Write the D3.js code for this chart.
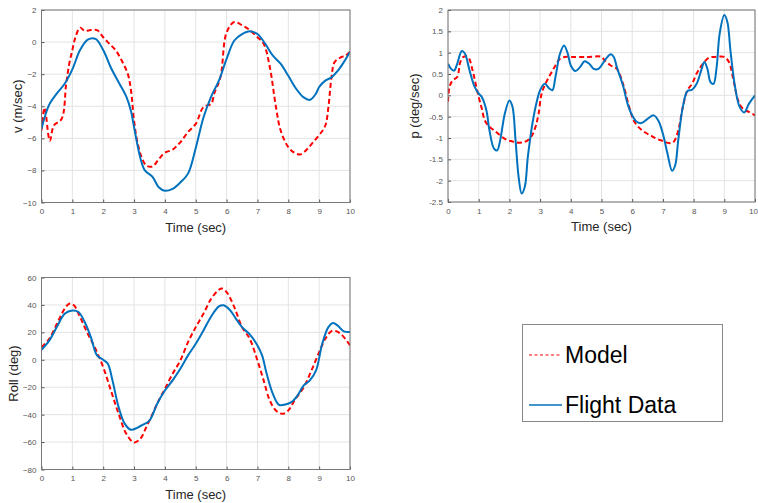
<!DOCTYPE html>
<html>
<head>
<meta charset="utf-8">
<script src="https://cdn.jsdelivr.net/npm/d3@7"></script>
<style>
  html, body { margin: 0; padding: 0; background: #fff; }
  svg { display: block; font-family: "Liberation Sans", Arial, sans-serif; }
</style>
</head>
<body>
<svg id="chart" width="758" height="503"></svg>
<script>
// Time samples and values for each response (Model vs Flight Data)
const vFlightT = [0,0.25,0.5,0.75,1.0,1.25,1.5,1.75,2.0,2.25,2.5,2.75,2.9,3.0,3.2,3.35,3.6,3.8,4.0,4.25,4.5,4.75,5.0,5.25,5.5,5.75,6.0,6.25,6.5,6.75,7.0,7.25,7.5,7.75,8.0,8.25,8.5,8.7,8.9,9.0,9.2,9.4,9.6,9.8,10];
const vFlight  = [-5.4,-3.9,-3.2,-2.6,-1.7,-0.5,0.15,0.2,-0.5,-1.6,-2.5,-3.4,-4.3,-5.3,-7.2,-8.0,-8.4,-9.05,-9.27,-9.15,-8.75,-8.2,-6.6,-4.7,-3.4,-2.4,-1.05,0.1,0.5,0.68,0.5,-0.1,-0.85,-1.35,-2.1,-2.9,-3.45,-3.6,-3.2,-2.8,-2.4,-2.2,-1.8,-1.25,-0.6];
const vModelT  = [0,0.1,0.27,0.4,0.65,0.8,0.9,1.0,1.1,1.25,1.4,1.6,1.8,2.0,2.2,2.4,2.6,2.8,2.9,3.0,3.1,3.25,3.4,3.6,3.8,4.0,4.25,4.5,4.75,5.0,5.25,5.5,5.6,5.8,6.0,6.25,6.5,6.75,7.0,7.2,7.4,7.6,7.75,8.0,8.2,8.4,8.6,8.8,9.0,9.2,9.3,9.4,9.5,9.7,9.85,10];
const vModel   = [-5.5,-4.1,-6.15,-5.2,-4.8,-2.6,-1.35,-0.5,0.3,0.9,0.7,0.75,0.75,0.3,-0.1,-0.5,-1.15,-2.0,-3.0,-4.9,-6.15,-7.2,-7.7,-7.75,-7.3,-6.9,-6.7,-6.25,-5.6,-5.1,-4.05,-3.85,-3.2,-2.2,0.6,1.25,1.05,0.75,0.3,-0.1,-1.55,-4.05,-5.5,-6.55,-6.9,-7.0,-6.7,-6.25,-5.8,-5.2,-4.05,-2.2,-1.25,-0.95,-0.85,-0.6];

const pFlightT = [0,0.1,0.2,0.3,0.45,0.55,0.7,0.85,1.0,1.1,1.25,1.35,1.5,1.6,1.7,1.85,2.0,2.1,2.2,2.3,2.4,2.5,2.6,2.75,2.9,3.0,3.15,3.3,3.4,3.5,3.65,3.78,3.9,4.0,4.15,4.3,4.45,4.6,4.75,4.9,5.0,5.15,5.3,5.4,5.5,5.7,5.85,6.0,6.15,6.3,6.5,6.7,6.85,7.0,7.15,7.3,7.4,7.5,7.65,7.8,7.95,8.1,8.25,8.35,8.45,8.55,8.65,8.75,8.85,9.0,9.1,9.2,9.35,9.5,9.65,9.8,10];
const pFlight  = [0.74,0.62,0.58,0.74,1.04,0.98,0.59,0.23,0.04,-0.04,-0.35,-0.82,-1.25,-1.29,-1.05,-0.43,-0.12,-0.27,-1.05,-1.91,-2.3,-2.15,-1.45,-0.66,-0.12,0.12,0.27,0.16,0.12,0.43,0.98,1.17,0.98,0.7,0.57,0.66,0.8,0.74,0.62,0.62,0.7,0.86,0.96,0.9,0.66,0.23,-0.2,-0.47,-0.62,-0.65,-0.55,-0.47,-0.59,-0.9,-1.37,-1.77,-1.64,-1.05,-0.27,0.1,0.13,0.27,0.59,0.78,0.62,0.31,0.27,0.66,1.45,1.88,1.72,1.05,0.2,-0.27,-0.4,-0.2,0.0];
const pModelT  = [0,0.05,0.15,0.3,0.4,0.5,0.65,0.8,0.9,1.0,1.1,1.2,1.35,1.5,1.7,1.9,2.1,2.3,2.5,2.7,2.85,2.95,3.05,3.2,3.35,3.5,3.65,3.8,4.0,4.5,5.0,5.1,5.3,5.5,5.7,5.9,6.05,6.2,6.4,6.6,6.8,7.0,7.2,7.35,7.5,7.65,7.8,7.95,8.1,8.3,8.5,8.7,9.0,9.15,9.3,9.45,9.6,9.8,10];
const pModel   = [-0.15,0.2,0.35,0.43,0.78,0.9,0.9,0.59,0.27,-0.04,-0.31,-0.59,-0.74,-0.82,-0.94,-1.04,-1.08,-1.11,-1.09,-0.98,-0.74,-0.43,0.04,0.31,0.51,0.7,0.86,0.9,0.9,0.9,0.9,0.82,0.7,0.62,0.27,-0.27,-0.59,-0.74,-0.86,-0.94,-1.02,-1.07,-1.12,-1.09,-0.82,-0.27,0.12,0.27,0.51,0.74,0.88,0.9,0.9,0.78,0.35,-0.12,-0.31,-0.39,-0.47];

const rFlightT = [0,0.25,0.5,0.75,1.0,1.2,1.4,1.6,1.8,2.0,2.15,2.3,2.5,2.7,2.9,3.1,3.3,3.5,3.75,4.0,4.25,4.5,4.75,5.0,5.25,5.5,5.75,5.9,6.1,6.3,6.5,6.75,7.0,7.15,7.3,7.5,7.7,7.9,8.1,8.3,8.5,8.7,8.9,9.1,9.3,9.45,9.6,9.8,10];
const rFlight  = [7.3,14,24,33.6,36,34.8,27.5,16.5,3.2,0,-2.9,-15,-34.5,-46.7,-51,-49.6,-47.2,-44.3,-32,-22.4,-15,-6.6,3.2,11.7,21.4,31.6,38.9,39.7,36.5,30,23.8,18.5,10.5,3.2,-10.2,-24.8,-32.8,-32.6,-30.9,-26,-18.7,-15,-7.8,11.7,23.8,26.8,25,20.7,20.2];
const rModelT  = [0,0.25,0.5,0.75,0.9,1.05,1.25,1.5,1.75,2.0,2.25,2.5,2.75,3.0,3.2,3.4,3.6,3.8,4.0,4.25,4.5,4.75,5.0,5.25,5.5,5.75,5.85,6.0,6.25,6.5,6.75,7.0,7.2,7.4,7.6,7.8,8.0,8.2,8.5,8.75,9.0,9.2,9.4,9.55,9.75,10];
const rModel   = [9.2,15.3,26.3,37.2,40.9,39.7,31.1,19,8,-5.4,-22.4,-39.4,-54,-60.3,-57.7,-49,-39.4,-29.7,-21.2,-10.2,-0.5,12.9,23.8,33.6,44.5,51.1,52,49.4,38.4,23.8,15.3,-0.5,-15,-29.7,-37,-39.4,-37,-29.7,-20,-7.8,5.6,15.3,20.9,20.9,17.8,10.5];

// Axis tick labels
const timeTicks = [0,1,2,3,4,5,6,7,8,9,10];
const vTicks = [-10,-8,-6,-4,-2,0,2];
const pTicks = [-2.5,-2,-1.5,-1,-0.5,0,0.5,1,1.5,2];
const rTicks = [-80,-60,-40,-20,0,20,40,60];

const seriesNames = ["Model", "Flight Data"];
const modelColor = "#ff0000";
const flightColor = "#0072bd";

const svg = d3.select("#chart");

function zip(ts, vs) { return ts.map((t, i) => [t, vs[i]]); }

function panel(cfg) {
  const x = d3.scaleLinear().domain([0, 10]).range([cfg.x0, cfg.x1]);
  const y = d3.scaleLinear().domain(cfg.yDomain).range([cfg.y1, cfg.y0]);
  const g = svg.append("g");

  // grid
  g.append("g").selectAll("line.vx").data(timeTicks).join("line")
    .attr("x1", d => x(d)).attr("x2", d => x(d))
    .attr("y1", cfg.y0).attr("y2", cfg.y1)
    .attr("stroke", "#e3e3e3").attr("stroke-width", 1);
  g.append("g").selectAll("line.hy").data(cfg.yTicks).join("line")
    .attr("x1", cfg.x0).attr("x2", cfg.x1)
    .attr("y1", d => y(d)).attr("y2", d => y(d))
    .attr("stroke", "#e3e3e3").attr("stroke-width", 1);

  // axes
  const xa = g.append("g").attr("transform", `translate(0,${cfg.y1})`)
    .call(d3.axisBottom(x).tickValues(timeTicks).tickSize(-3).tickPadding(6).tickFormat(d3.format("d")));
  const ya = g.append("g").attr("transform", `translate(${cfg.x0},0)`)
    .call(d3.axisLeft(y).tickValues(cfg.yTicks).tickSize(-3).tickPadding(5).tickFormat(cfg.fmt));
  [xa, ya].forEach(a => {
    a.select(".domain").remove();
    a.selectAll("line").attr("stroke", "#555");
    a.selectAll("text").attr("fill", "#555").style("font-size", "8px")
      .style("font-family", "Liberation Sans, Arial, sans-serif");
  });
  // keep the last time label inside the page when the panel reaches the edge
  if (cfg.x1 > 750) {
    xa.selectAll(".tick").filter(d => d === 10).select("text").attr("dx", "-2");
  }

  // clip to plot box
  const cid = "clip" + cfg.id;
  svg.append("clipPath").attr("id", cid).append("rect")
    .attr("x", cfg.x0).attr("y", cfg.y0).attr("width", cfg.x1 - cfg.x0).attr("height", cfg.y1 - cfg.y0);

  const line = d3.line().x(d => x(d[0])).y(d => y(d[1])).curve(d3.curveCatmullRom.alpha(0.5));
  const lg = g.append("g").attr("clip-path", `url(#${cid})`);
  lg.append("path").attr("d", line(cfg.model)).attr("fill", "none")
    .attr("stroke", modelColor).attr("stroke-width", 2).attr("stroke-dasharray", "5,3");
  lg.append("path").attr("d", line(cfg.flight)).attr("fill", "none")
    .attr("stroke", flightColor).attr("stroke-width", 2);

  // box
  g.append("rect").attr("x", cfg.x0).attr("y", cfg.y0)
    .attr("width", cfg.x1 - cfg.x0).attr("height", cfg.y1 - cfg.y0)
    .attr("fill", "none").attr("stroke", "#777").attr("stroke-width", 1);

  // labels
  g.append("text").attr("x", (cfg.x0 + cfg.x1) / 2).attr("y", cfg.y1 + 29)
    .attr("text-anchor", "middle").attr("fill", "#262626").style("font-size", "13px")
    .text("Time (sec)");
  g.append("text")
    .attr("transform", `translate(${cfg.ylx},${(cfg.y0 + cfg.y1) / 2}) rotate(-90)`)
    .attr("text-anchor", "middle").attr("fill", "#262626").style("font-size", "13px")
    .text(cfg.ylabel);
}

panel({ id: "v", x0: 41.5, x1: 350, y0: 10, y1: 202.5, yDomain: [-10, 2], yTicks: vTicks,
  fmt: d3.format("d"), ylabel: "v (m/sec)", ylx: 22,
  model: zip(vModelT, vModel), flight: zip(vFlightT, vFlight) });

panel({ id: "p", x0: 448, x1: 755, y0: 10, y1: 202, yDomain: [-2.5, 2], yTicks: pTicks,
  fmt: d => String(d), ylabel: "p (deg/sec)", ylx: 419,
  model: zip(pModelT, pModel), flight: zip(pFlightT, pFlight) });

panel({ id: "r", x0: 41.5, x1: 350, y0: 277.5, y1: 469.5, yDomain: [-80, 60], yTicks: rTicks,
  fmt: d3.format("d"), ylabel: "Roll (deg)", ylx: 18,
  model: zip(rModelT, rModel), flight: zip(rFlightT, rFlight) });

// legend
const leg = svg.append("g");
leg.append("rect").attr("x", 522.5).attr("y", 324.5).attr("width", 200).attr("height", 97)
  .attr("fill", "#fff").attr("stroke", "#888").attr("stroke-width", 1);
const legY = [355, 405];
seriesNames.forEach((name, i) => {
  leg.append("line").attr("x1", 529).attr("x2", 562).attr("y1", legY[i]).attr("y2", legY[i])
    .attr("stroke", i === 0 ? modelColor : flightColor)
    .attr("stroke-width", i === 0 ? 1.2 : 1.5)
    .attr("stroke-dasharray", i === 0 ? "3,2.5" : null);
  leg.append("text").attr("x", 565).attr("y", legY[i]).attr("dy", "0.35em")
    .attr("fill", "#000").style("font-size", "23px").text(name);
});
</script>
</body>
</html>
